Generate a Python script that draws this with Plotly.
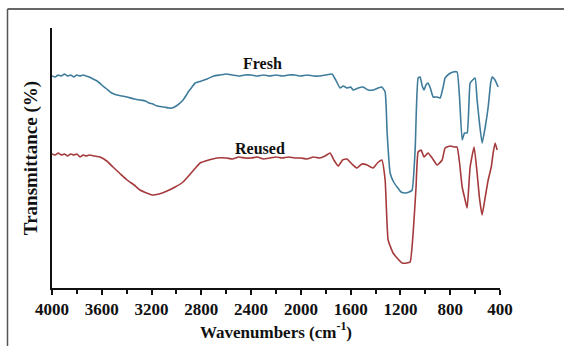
import plotly.graph_objects as go

# Wavenumbers (cm-1) and relative transmittance (arbitrary units)
fresh_wn = [4000, 3975, 3950, 3925, 3900, 3875, 3850, 3825, 3800, 3775, 3750, 3725, 3700, 3670, 3638, 3600, 3560,
            3520, 3478, 3440, 3397, 3340, 3293, 3250, 3220, 3190, 3156, 3100, 3060, 3035, 2990,
            2947, 2920, 2900, 2875, 2850, 2800, 2754, 2700, 2650, 2600, 2550, 2500, 2450, 2400, 2350, 2300, 2250,
            2200, 2150, 2100, 2050, 2000, 1950, 1900, 1850, 1800,
            1750, 1720, 1685, 1660, 1630, 1600, 1580, 1540, 1500, 1460, 1420, 1380, 1350, 1323, 1307, 1283, 1255,
            1227, 1195, 1162, 1130, 1106, 1082, 1058, 1042, 1025, 1010, 995, 978, 960, 937, 910, 881, 857, 841, 810,
            777, 745, 725, 704, 685, 664, 640, 620, 600, 584, 565, 544, 520, 495, 475, 463, 440, 415]
fresh_t = [212, 211, 213, 212, 214, 212, 213, 211, 213, 212, 213, 212, 211, 209, 207, 203, 199,
           195, 193, 192, 191, 189, 188, 187, 185, 184, 182, 181, 180, 180, 183,
           188, 193, 197, 201, 205, 207, 209, 212, 213, 214, 213, 212, 213, 213, 212, 213, 212,
           213, 212, 213, 213, 212, 213, 212, 212, 213,
           214, 208, 200, 202, 200, 201, 198, 200, 201, 198, 198, 200, 201, 196, 155, 115, 106,
           101, 96, 95, 96, 98, 138, 210, 211, 202, 198, 203, 205, 200, 191, 191, 190, 201, 210, 214,
           216, 216, 190, 148, 155, 155, 205, 208, 210, 188, 165, 145, 160, 181, 205, 211, 208, 201]

reused_wn = [4000, 3975, 3950, 3925, 3900, 3875, 3850, 3825, 3800, 3775, 3750, 3725, 3700, 3660, 3614, 3560, 3510,
             3450, 3397, 3340, 3293, 3240, 3196, 3140, 3076, 3010, 2947, 2910, 2875, 2840, 2810, 2740, 2674, 2600,
             2550, 2500, 2450, 2400, 2350, 2300, 2250, 2200, 2150, 2100, 2050, 2000, 1950,
             1900, 1850, 1806, 1765, 1735, 1700, 1665, 1630, 1590, 1550, 1510, 1468, 1440, 1420, 1385, 1350, 1323, 1299,
             1259, 1220, 1186, 1150, 1122, 1098, 1075, 1058, 1034, 1010, 978, 940, 905, 865, 841, 800, 770, 745,
             725, 704, 684, 664, 640, 608, 584, 565, 544, 520, 495, 470, 455, 439, 423]
reused_t = [134, 133, 135, 133, 134, 132, 134, 133, 134, 131, 133, 132, 133, 132, 131, 127, 121,
            114, 108, 103, 98, 95, 93, 94, 97, 101, 106, 111, 116, 121, 125, 128, 130, 130,
            129, 131, 130, 130, 131, 129, 130, 131, 130, 131, 130, 130, 129,
            131, 130, 132, 135, 128, 122, 128, 129, 124, 120, 124, 123, 121, 120, 125, 128, 108, 48,
            35, 29, 25, 25, 26, 55, 100, 136, 138, 131, 135, 129, 123, 128, 140, 142, 141, 141,
            125, 101, 90, 80, 121, 141, 115, 90, 73, 90, 108, 121, 135, 145, 138]

series_names = ["Fresh", "Reused"]
series_colors = ["#3f7c9c", "#a53a3c"]
label_x = [2310, 2330]
label_y = [225, 140]
major_ticks = [4000, 3600, 3200, 2800, 2400, 2000, 1600, 1200, 800, 400]

fig = go.Figure()
for wn, t, name, col in [(fresh_wn, fresh_t, series_names[0], series_colors[0]),
                         (reused_wn, reused_t, series_names[1], series_colors[1])]:
    fig.add_trace(go.Scatter(x=wn, y=t, mode="lines", name=name,
                             line=dict(color=col, width=1.6, shape="spline", smoothing=0.4),
                             showlegend=False, hoverinfo="skip"))

for name, lx, ly in zip(series_names, label_x, label_y):
    fig.add_annotation(x=lx, y=ly, text="<b>" + name + "</b>", showarrow=False,
                       font=dict(family="Liberation Serif", size=16, color="#111111"))

W, H = 564, 346
ml, mr, mt, mb = 52, 64, 28, 58
pw, ph = W - ml - mr, H - mt - mb
def px_to_paper_x(p):
    return (p - ml) / pw
def px_to_paper_y(p):
    return (H - mb - p) / ph

# outer frame lines (top and left) of the figure panel
fig.add_shape(type="line", xref="paper", yref="paper",
              x0=px_to_paper_x(7.5), x1=px_to_paper_x(W), y0=px_to_paper_y(9), y1=px_to_paper_y(9),
              line=dict(color="#333333", width=1.5))
fig.add_shape(type="line", xref="paper", yref="paper",
              x0=px_to_paper_x(7.5), x1=px_to_paper_x(7.5), y0=px_to_paper_y(9), y1=px_to_paper_y(H),
              line=dict(color="#555555", width=1.5))

fig.update_layout(
    width=W, height=H,
    margin=dict(l=ml, r=mr, t=mt, b=mb),
    paper_bgcolor="white", plot_bgcolor="white",
    font=dict(family="Liberation Serif", color="#111111"),
)
fig.update_xaxes(range=[4000, 400], tickvals=major_ticks,
                 ticktext=["<b>" + str(v) + "</b>" for v in major_ticks],
                 ticks="outside", ticklen=5, tickwidth=1.5, tickcolor="#111111",
                 minor=dict(ticks="outside", dtick=200, ticklen=4, tickwidth=1.5, tickcolor="#111111"),
                 showline=True, linecolor="#111111", linewidth=2, showgrid=False, zeroline=False,
                 tickfont=dict(family="Liberation Serif", size=17, color="#111111"),
                 title=dict(text="<b>Wavenumbers (cm<sup>-1</sup>)</b>", standoff=1,
                            font=dict(family="Liberation Serif", size=17, color="#111111")))
fig.update_yaxes(range=[0, 260], showticklabels=False, ticks="", showline=True, linecolor="#111111",
                 linewidth=2, showgrid=False, zeroline=False,
                 title=dict(text="<b>Transmittance (%)</b>", standoff=7,
                            font=dict(family="Liberation Serif", size=19, color="#111111")))

fig.write_html("out.html")
